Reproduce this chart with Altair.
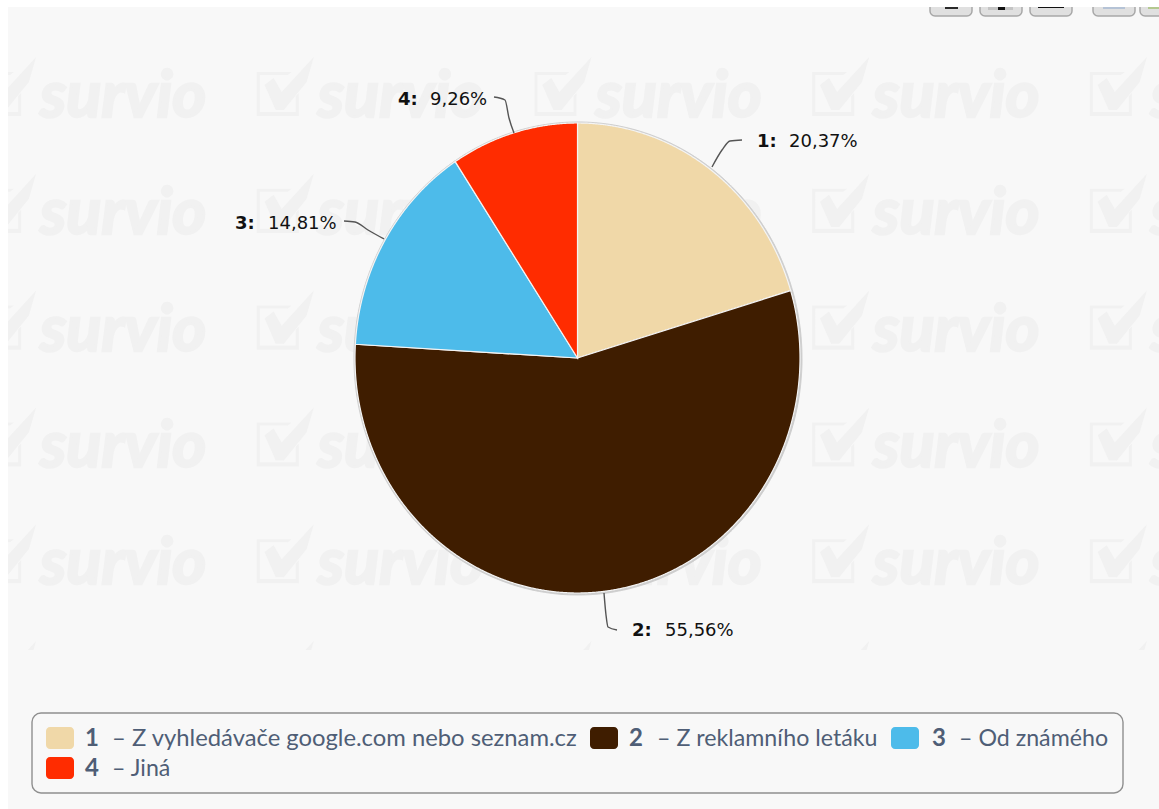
import math

import altair as alt
import pandas as pd

# Survey answers and their shares
ids = [1, 2, 3, 4]
shares = [20.37, 55.56, 14.81, 9.26]
answers = ["Z vyhledávače google.com nebo seznam.cz", "Z reklamního letáku", "Od známého", "Jiná"]
colors = ["#f0d8a8", "#3f1d00", "#4dbbea", "#ff2c00"]

PAGE = "#f8f8f8"
MARK = "#f1f1f1"
W, H = 1159, 809

px = lambda f: alt.X(f, scale=None, axis=None)
py = lambda f: alt.Y(f, scale=None, axis=None)


def rects(rows, **mark):
    frame = pd.DataFrame(rows, columns=["x", "x2", "y", "y2"])
    return alt.Chart(frame).mark_rect(**mark).encode(
        x=px("x:Q"), x2="x2:Q", y=py("y:Q"), y2="y2:Q"
    )


def texts(rows, **mark):
    frame = pd.DataFrame(rows, columns=["x", "y", "t"])
    return alt.Chart(frame).mark_text(**mark).encode(
        x=px("x:Q"), y=py("y:Q"), text="t:N"
    )


# Panel background
panel = rects([[8, W, 7, H]], color=PAGE)

# Repeating brand watermark
columns = [-19 + 277.7 * i for i in range(5)]
rows = [57 + 116.8 * j for j in range(6)]
tiles = pd.DataFrame([{"x": c, "y": r} for c in columns for r in rows])
tiles["word"] = "survio"
check_path = (
    "M-0.67 -0.07L-0.37 -0.3L-0.1 0.17L0.97 -1L0.73 -0.17L-0.03 0.77L-0.3 0.77Z"
    "M-0.93 -0.5L0.23 -0.5L0.1 -0.4L-0.83 -0.4L-0.83 0.83L0.37 0.83L0.37 0.3L0.47 0.2L0.47 0.97L-0.93 0.97Z"
)
mark_check = alt.Chart(tiles).transform_calculate(cx="datum.x + 26", cy="datum.y + 30").mark_point(
    shape=check_path, size=3600, filled=True, color=MARK, opacity=1
).encode(x=px("cx:Q"), y=py("cy:Q"))
mark_word = alt.Chart(tiles).transform_calculate(tx="datum.x + 59", ty="datum.y + 60").mark_text(
    font="Lato", fontSize=65, fontWeight="bold", fontStyle="italic",
    align="left", baseline="alphabetic", color=MARK, stroke=MARK, strokeWidth=2.5,
).encode(x=px("tx:Q"), y=py("ty:Q"), text="word:N")

# Watermark stops above the legend area and at the panel edge
covers_panel = rects([[8, W, 650, H]], color=PAGE)
covers_page = rects([[0, 8, 0, H]], color="white")

# Toolbar buttons, cut off by the top edge
buttons = rects(
    [[930, 972, -6, 16], [980, 1022, -6, 16], [1030, 1072, -6, 16], [1093, 1135, -6, 16], [1140, 1180, -6, 16]],
    color="#e0e0e0", stroke="#a8a8a8", strokeWidth=1.5, cornerRadius=5,
)
glyphs = pd.DataFrame(
    [
        [945, 958, 5, 9, "#2a2a2a"],
        [988, 1013, 5, 10, "#c4c4c4"],
        [998, 1005, 5, 10, "#111111"],
        [1038, 1064, 5, 8, "#111111"],
        [1103, 1125, 5, 9, "#b5c3d6"],
        [1148, 1180, 5, 9, "#b3c88f"],
    ],
    columns=["x", "x2", "y", "y2", "c"],
)
button_glyphs = alt.Chart(glyphs).mark_rect().encode(
    x=px("x:Q"), x2="x2:Q", y=py("y:Q"), y2="y2:Q", color=alt.Color("c:N", scale=None)
)
covers_top = rects([[0, W, 0, 7]], color="white")


# Pie: the circle is stretched vertically, so each slice is an elliptical
# sector whose outline follows from the shares.
def sector(start, end, cx, cy, rx, ry):
    steps = max(2, int((end - start) / 0.25))
    ring = [[cx, cy]]
    for k in range(steps + 1):
        a = math.radians(start + (end - start) * k / steps)
        ring.append([cx + rx * math.sin(a), cy - ry * math.cos(a)])
    ring.append([cx, cy])
    return ring


total = sum(shares)
features = []
shadow_features = []
angle = 0.0
for share, color in zip(shares, colors):
    sweep = share / total * 360
    features.append({
        "type": "Feature",
        "properties": {"color": color},
        "geometry": {"type": "Polygon", "coordinates": [sector(angle, angle + sweep, 577.5, 358, 222.5, 235)]},
    })
    shadow_features.append({
        "type": "Feature",
        "properties": {},
        "geometry": {"type": "Polygon", "coordinates": [sector(angle, angle + sweep, 578, 358.5, 224, 236.5)]},
    })
    angle += sweep


def geo(items):
    return alt.InlineData(
        values={"type": "FeatureCollection", "features": items},
        format=alt.DataFormat(property="features", type="json"),
    )


shadow = alt.Chart(geo(shadow_features)).mark_geoshape(color="#cdcdcd", stroke="#cdcdcd", strokeWidth=1).project(
    type="identity", scale=1, translate=[0, 0]
)
pie = alt.Chart(geo(features)).mark_geoshape(stroke="#f4f4f4", strokeWidth=1.2).encode(
    color=alt.Color("properties.color:N", scale=None)
).project(type="identity", scale=1, translate=[0, 0])

# Leader lines from the slices to their labels
leaders = pd.DataFrame(
    [
        [1, 0, 712, 167], [1, 1, 722, 150], [1, 2, 730, 141], [1, 3, 742, 140],
        [2, 0, 604, 593], [2, 1, 606, 615], [2, 2, 608, 627], [2, 3, 617, 630],
        [3, 0, 384, 239], [3, 1, 368, 230], [3, 2, 355, 222], [3, 3, 344, 221],
        [4, 0, 514, 133], [4, 1, 509, 118], [4, 2, 505, 100], [4, 3, 494, 97],
    ],
    columns=["s", "k", "x", "y"],
)
leader_lines = alt.Chart(leaders).mark_line(
    color="#555555", strokeWidth=1.4, interpolate="monotone"
).encode(x=px("x:Q"), y=py("y:Q"), detail="s:N", order="k:Q")

# Pie labels
value_text = [f"{v:.2f}".replace(".", ",") + "%" for v in shares]
label_font = dict(font="DejaVu Sans", fontSize=18, baseline="middle", color="#111111")
label_ids = texts(
    [
        [757, 142, f"{ids[0]}:"],
        [632, 631, f"{ids[1]}:"],
        [235, 224, f"{ids[2]}:"],
        [398, 100, f"{ids[3]}:"],
    ],
    align="left", fontWeight="bold", **label_font,
)
label_values = texts(
    [
        [789, 142, value_text[0]],
        [665, 631, value_text[1]],
        [268, 224, value_text[2]],
        [430, 100, value_text[3]],
    ],
    align="left", **label_font,
)

# Legend
legend_box = rects([[32, 1123, 713, 793]], fill="transparent", stroke="#8f8f8f", strokeWidth=1.4, cornerRadius=9)
swatch_frame = pd.DataFrame(
    [
        [46, 74, 727, 749, colors[0]],
        [590, 618, 727, 749, colors[1]],
        [891, 919, 727, 749, colors[2]],
        [46, 74, 757, 779, colors[3]],
    ],
    columns=["x", "x2", "y", "y2", "c"],
)
swatches = alt.Chart(swatch_frame).mark_rect(cornerRadius=4).encode(
    x=px("x:Q"), x2="x2:Q", y=py("y:Q"), y2="y2:Q", color=alt.Color("c:N", scale=None)
)
legend_font = dict(font="Lato", baseline="middle", align="left", color="#4f5e76")
legend_ids = texts(
    [[85, 739, str(ids[0])], [629, 739, str(ids[1])], [932, 739, str(ids[2])], [85, 769, str(ids[3])]],
    fontSize=24, fontWeight="bold", **legend_font,
)
legend_first = texts([[112, 739, "– " + answers[0]]], fontSize=23.8, **legend_font)
legend_rest = texts(
    [
        [657, 739, "– " + answers[1]],
        [959, 739, "– " + answers[2]],
        [112, 769, "– " + answers[3]],
    ],
    fontSize=23.2, **legend_font,
)

chart = alt.layer(
    panel, mark_check, mark_word, covers_panel, covers_page, buttons, button_glyphs, covers_top,
    shadow, pie, leader_lines, label_ids, label_values,
    legend_box, swatches, legend_ids, legend_first, legend_rest,
).properties(
    width=W, height=H, padding=0, background="white", autosize=alt.AutoSizeParams(type="none")
).configure_view(stroke=None)

chart.save("out.html", embed_options={"renderer": "svg", "actions": False})
